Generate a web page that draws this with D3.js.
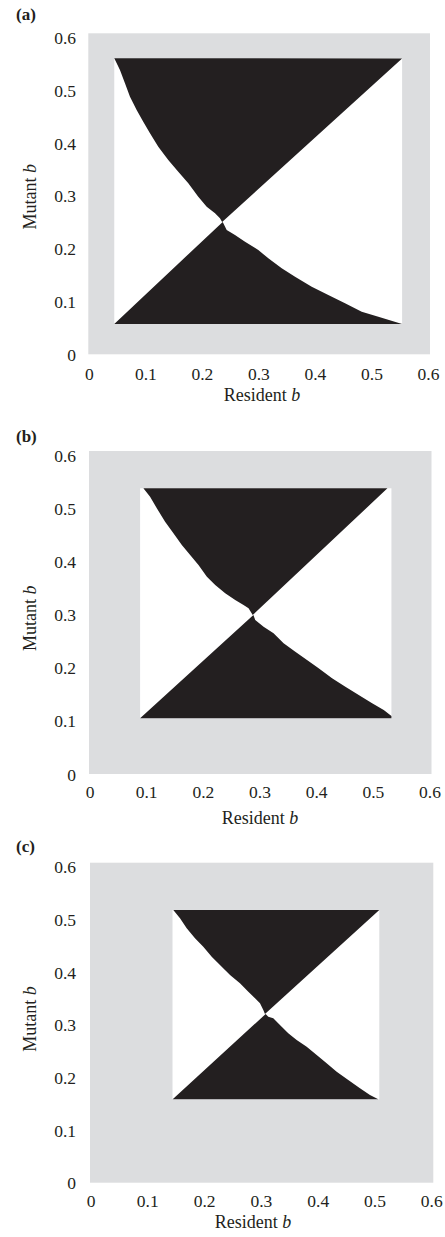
<!DOCTYPE html>
<html><head><meta charset="utf-8">
<script src="https://cdn.jsdelivr.net/npm/d3@7"></script>
<style>
body{margin:0;background:#fff}
svg{display:block}
text{font-family:"Liberation Serif","Times New Roman",serif;fill:#231f20}
</style>
</head><body>
<svg id="chart" width="445" height="1237"></svg>
<script>
// ---------------- DATA ----------------
const panelLabels = ["(a)", "(b)", "(c)"];
const tickValues = [0, 0.1, 0.2, 0.3, 0.4, 0.5, 0.6];
const xTitleText = "Resident";
const yTitleText = "Mutant";
const titleVariable = "b";

// extent of the evaluated (white) region: [min, max]
const residentRanges = [[0.0456, 0.551], [0.0895, 0.5298], [0.1442, 0.5056]];
const mutantRanges   = [[0.0567, 0.553], [0.1035, 0.5307], [0.1564, 0.5113]];

// diagonal (mutant = resident) end points: [lower-left, upper-right]
const diagonalEnds = [
  [[0.0456, 0.0567], [0.551, 0.553]],
  [[0.0895, 0.1035], [0.5228, 0.5307]],
  [[0.1445, 0.1564], [0.5056, 0.5113]]
];

// invasion boundary from top-left corner down to the singular point [resident, mutant]
const upperCurveA = [[0.0456,0.5533],[0.0556,0.5314],[0.0644,0.5065],[0.0732,0.4815],[0.0849,0.4566],[0.0965,0.4348],[0.1083,0.4131],[0.1229,0.3880],[0.1404,0.3632],[0.1580,0.3413],[0.1756,0.3196],[0.1931,0.2946],[0.2079,0.2759],[0.2225,0.2636],[0.2312,0.2542],[0.2350,0.2475]];
const lowerCurveA = [[0.2360,0.2475],[0.2430,0.2323],[0.2576,0.2230],[0.2752,0.2105],[0.2985,0.1950],[0.3161,0.1794],[0.3396,0.1607],[0.3630,0.1450],[0.3923,0.1264],[0.4214,0.1108],[0.4508,0.0953],[0.4801,0.0796],[0.5093,0.0703],[0.5510,0.0567]];

const upperCurveB = [[0.0953,0.5307],[0.1070,0.5151],[0.1188,0.4936],[0.1333,0.4687],[0.1479,0.4471],[0.1626,0.4254],[0.1772,0.4068],[0.1918,0.3883],[0.2065,0.3665],[0.2211,0.3511],[0.2386,0.3356],[0.2561,0.3232],[0.2707,0.3139],[0.2795,0.3078],[0.2868,0.2954]];
const lowerCurveB = [[0.2880,0.2954],[0.2912,0.2861],[0.3058,0.2736],[0.3233,0.2614],[0.3409,0.2428],[0.3614,0.2272],[0.3819,0.2118],[0.4023,0.1964],[0.4258,0.1778],[0.4491,0.1622],[0.4725,0.1468],[0.4960,0.1313],[0.5163,0.1189],[0.5298,0.1078],[0.5298,0.1035]];

const upperCurveC = [[0.1456,0.5113],[0.1573,0.4958],[0.1690,0.4770],[0.1835,0.4583],[0.1980,0.4425],[0.2127,0.4238],[0.2272,0.4082],[0.2447,0.3895],[0.2621,0.3739],[0.2767,0.3581],[0.2884,0.3458],[0.2971,0.3364],[0.3029,0.3238],[0.3058,0.3163]];
const lowerCurveC = [[0.3070,0.3163],[0.3116,0.3113],[0.3203,0.3083],[0.3320,0.2957],[0.3465,0.2801],[0.3612,0.2676],[0.3787,0.2550],[0.3962,0.2394],[0.4136,0.2238],[0.4311,0.2081],[0.4514,0.1926],[0.4718,0.1770],[0.4893,0.1645],[0.5038,0.1564]];

const upperCurves = [upperCurveA, upperCurveB, upperCurveC];
const lowerCurves = [lowerCurveA, lowerCurveB, lowerCurveC];

// ---------------- LAYOUT / STYLE ----------------
const layout = [
  {left:88.3, right:430,   top:33.3,  bottom:354.3,  labelY:19.5, xTickY:380,   xTitleY:400.5, xTitleX:262, yTitleY:196.7},
  {left:89,   right:431.5, top:451,   bottom:774,    labelY:442,  xTickY:798,   xTitleY:823.5, xTitleX:260, yTitleY:618.3},
  {left:90,   right:433.3, top:862.7, bottom:1182.7, labelY:852,  xTickY:1206.5,xTitleY:1228,  xTitleX:253, yTitleY:1019}
];
const GRAY = "#dcdddf", INK = "#231f20";
const FONT = '"Liberation Serif","Times New Roman",serif';

const svg = d3.select("#chart");
const fmt = d => d === 0 ? "0" : d3.format(".1f")(d);

panelLabels.forEach((lab, i) => {
  const L = layout[i];
  const x = d3.scaleLinear().domain([0, 0.6]).range([L.left, L.right]);
  const y = d3.scaleLinear().domain([0, 0.6]).range([L.bottom, L.top]);
  // label scales (tick text sits slightly inside the shaded field)
  const xa = d3.scaleLinear().domain([0, 0.6]).range([L.left + 0.5, L.right - 2]);
  const ya = d3.scaleLinear().domain([0, 0.6]).range([L.bottom + 0.3, L.top + 4.3]);

  const g = svg.append("g");

  g.append("rect")
    .attr("x", x(0)).attr("y", y(0.6))
    .attr("width", x(0.6) - x(0)).attr("height", y(0) - y(0.6))
    .attr("fill", GRAY);

  const rr = residentRanges[i], mr = mutantRanges[i];
  g.append("rect")
    .attr("x", x(rr[0])).attr("y", y(mr[1]))
    .attr("width", x(rr[1]) - x(rr[0])).attr("height", y(mr[0]) - y(mr[1]))
    .attr("fill", "#fff");

  const line = d3.line().x(d => x(d[0])).y(d => y(d[1]));
  const [ll, ur] = diagonalEnds[i];

  g.append("path")
    .attr("d", line([...upperCurves[i], ur]) + "Z")
    .attr("fill", INK);
  g.append("path")
    .attr("d", line([ll, ...lowerCurves[i]]) + "Z")
    .attr("fill", INK);

  const yAx = g.append("g").attr("transform", "translate(76,0)")
    .call(d3.axisLeft(ya).tickValues(tickValues).tickSize(0).tickPadding(0).tickFormat(fmt));
  yAx.attr("font-family", null).attr("font-size", null);
  yAx.select(".domain").remove();
  yAx.selectAll("text").attr("x", 0).attr("dy", "0.33em")
    .style("font-family", FONT).style("font-size", "17.5px").style("fill", INK);

  const xAx = g.append("g").attr("transform", `translate(0,${L.xTickY})`)
    .call(d3.axisBottom(xa).tickValues(tickValues).tickSize(0).tickPadding(0).tickFormat(fmt));
  xAx.attr("font-family", null).attr("font-size", null);
  xAx.select(".domain").remove();
  xAx.selectAll("text").attr("y", 0).attr("dy", 0)
    .style("font-family", FONT).style("font-size", "17.5px").style("fill", INK);

  g.append("text").attr("x", 16).attr("y", L.labelY)
    .style("font-family", FONT).style("font-size", "17px").style("font-weight", "bold").text(lab);

  const xt = g.append("text").attr("x", L.xTitleX).attr("y", L.xTitleY)
    .attr("text-anchor", "middle").style("font-family", FONT).style("font-size", "18px");
  xt.append("tspan").text(xTitleText + " ");
  xt.append("tspan").style("font-style", "italic").text(titleVariable);

  const yt = g.append("text")
    .attr("transform", `translate(36,${L.yTitleY}) rotate(-90)`)
    .attr("text-anchor", "middle").style("font-family", FONT).style("font-size", "18px");
  yt.append("tspan").text(yTitleText + " ");
  yt.append("tspan").style("font-style", "italic").text(titleVariable);
});
</script>
</body></html>
